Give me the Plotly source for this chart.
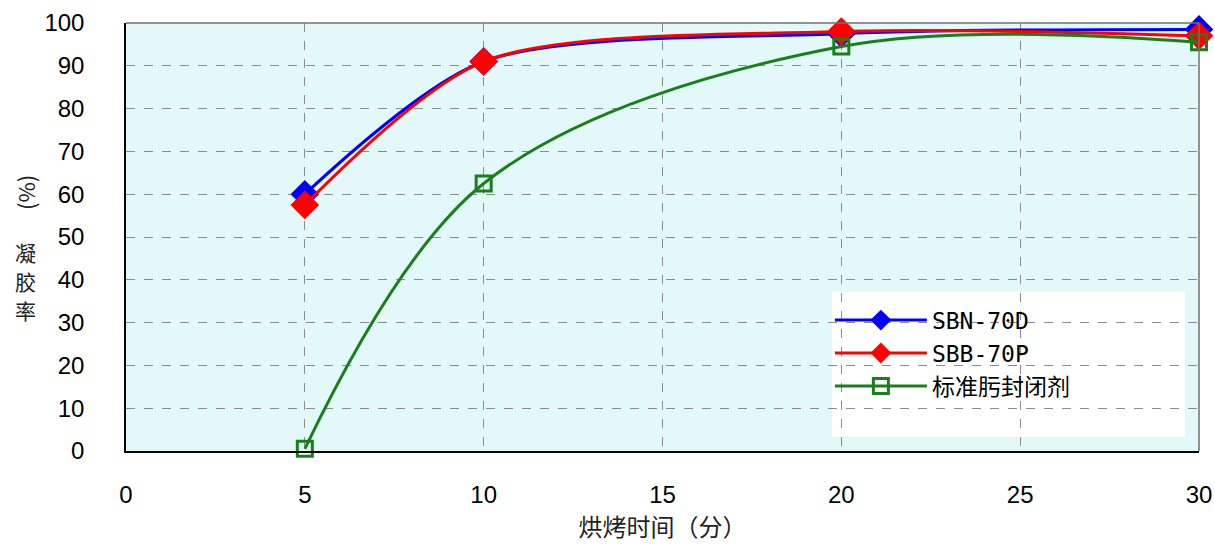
import plotly.graph_objects as go

times = [5, 10, 20, 30]
sbn_70d = [60, 91, 97.5, 98.5]
sbb_70p = [57.5, 91, 98, 97]
standard = [0.5, 62.5, 94.5, 95.5]
series_names = ["SBN-70D", "SBB-70P", "标准肟封闭剂"]

x_ticks = [0, 5, 10, 15, 20, 25, 30]
y_ticks = [0, 10, 20, 30, 40, 50, 60, 70, 80, 90, 100]

NUM_FONT = "Liberation Sans, Arial, sans-serif"
LEG_FONT = "DejaVu Sans Mono, Noto Sans CJK SC, monospace"
CJK_FONT = "Noto Sans CJK SC, sans-serif"

fig = go.Figure()
fig.add_trace(go.Scatter(
    x=times, y=sbn_70d, name=series_names[0], mode="lines+markers",
    line=dict(color="#0000ff", width=3, shape="spline", smoothing=0.8),
    marker=dict(symbol="diamond", size=22, color="#0000ff"),
    cliponaxis=False))
fig.add_trace(go.Scatter(
    x=times, y=sbb_70p, name=series_names[1], mode="lines+markers",
    line=dict(color="#ff0000", width=3, shape="spline", smoothing=0.8),
    marker=dict(symbol="diamond", size=22, color="#ff0000"),
    cliponaxis=False))
fig.add_trace(go.Scatter(
    x=times, y=standard, name=series_names[2], mode="lines+markers",
    line=dict(color="#1a7f1a", width=3, shape="spline", smoothing=1.0),
    marker=dict(symbol="square-open", size=15, color="#1a7f1a", line=dict(width=3)),
    cliponaxis=False))

ytitle_chars = ["凝", "胶", "率"]
annotations = [
    dict(text="(%)", xref="paper", yref="paper", x=-0.094, y=0.603, xanchor="center", yanchor="middle",
         showarrow=False, textangle=-90, font=dict(family=CJK_FONT, size=22, color="#222")),
]
for i, ch in enumerate(ytitle_chars):
    annotations.append(dict(text=ch, xref="paper", yref="paper", x=-0.094, y=0.465 - i * 0.068,
                            xanchor="center", yanchor="middle", showarrow=False,
                            font=dict(family=CJK_FONT, size=21, color="#222")))

fig.update_layout(
    width=1215, height=549,
    margin=dict(l=126, r=16, t=23, b=98, autoexpand=False),
    paper_bgcolor="white",
    plot_bgcolor="#e3f8f8",
    showlegend=True,
    legend=dict(
        x=0.656, y=0.356, xanchor="left", yanchor="top",
        bgcolor="rgba(0,0,0,0)", borderwidth=0,
        font=dict(family=LEG_FONT, size=23, color="black"),
        itemwidth=92,
    ),
    xaxis=dict(
        range=[0, 30], tickvals=x_ticks, ticktext=[str(v) for v in x_ticks],
        showgrid=True, gridcolor="#8c8c8c", griddash="dash", gridwidth=1,
        showline=True, linecolor="black", linewidth=1.5, zeroline=False,
        ticks="", ticklabelstandoff=21, automargin=False,
        tickfont=dict(family=NUM_FONT, size=24, color="black"),
        title=dict(text="烘烤时间（分）", font=dict(family=CJK_FONT, size=24, color="#222"), standoff=8),
    ),
    yaxis=dict(
        range=[0, 100], tickvals=y_ticks, ticktext=[str(v) for v in y_ticks],
        showgrid=True, gridcolor="#8c8c8c", griddash="dash", gridwidth=1,
        showline=True, linecolor="black", linewidth=1.5, zeroline=False,
        ticks="", ticklabelstandoff=35, automargin=False,
        tickfont=dict(family=NUM_FONT, size=24, color="black"),
    ),
    shapes=[
        dict(type="rect", xref="paper", yref="paper", x0=0.658, x1=0.987, y0=0.033, y1=0.372,
             fillcolor="white", line=dict(width=0), layer="between"),
        dict(type="line", xref="paper", yref="paper", x0=0, x1=1, y0=1, y1=1,
             line=dict(color="#707070", width=1.5)),
        dict(type="line", xref="paper", yref="paper", x0=1, x1=1, y0=0, y1=1,
             line=dict(color="#707070", width=1.5)),
    ],
    annotations=annotations,
)

fig.write_html(
    "out.html",
    config={"displayModeBar": False},
    post_script="document.body.style.margin='0';document.body.style.overflow='hidden';",
)
